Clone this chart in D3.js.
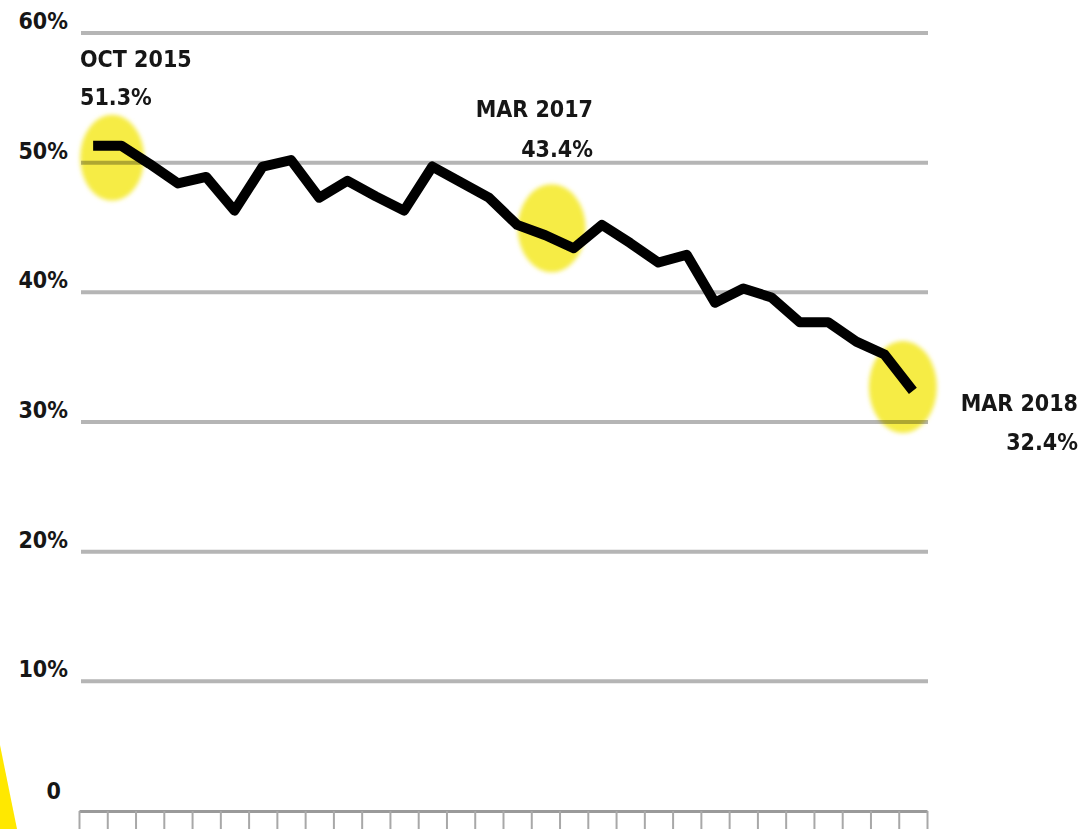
<!DOCTYPE html>
<html>
<head>
<meta charset="utf-8">
<script src="https://cdn.jsdelivr.net/npm/d3@7"></script>
<style>
    body { margin: 0; background: #fff; }
    svg { display: block; }
    text { font-family: "DejaVu Sans Condensed", "DejaVu Sans", sans-serif; font-weight: bold; fill: #161616; }
</style>
</head>
<body>
<svg width="1082" height="829"></svg>
<script>
const months = [
    "OCT 2015", "NOV 2015", "DEC 2015",
    "JAN 2016", "FEB 2016", "MAR 2016", "APR 2016", "MAY 2016", "JUN 2016",
    "JUL 2016", "AUG 2016", "SEP 2016", "OCT 2016", "NOV 2016", "DEC 2016",
    "JAN 2017", "FEB 2017", "MAR 2017", "APR 2017", "MAY 2017", "JUN 2017",
    "JUL 2017", "AUG 2017", "SEP 2017", "OCT 2017", "NOV 2017", "DEC 2017",
    "JAN 2018", "FEB 2018", "MAR 2018"
];
const values = [
    51.3, 51.3, 49.9, 48.4, 48.9, 46.3, 49.7, 50.2, 47.3, 48.6,
    47.4, 46.3, 49.7, 48.5, 47.3, 45.2, 44.4, 43.4, 45.2, 43.8,
    42.3, 42.9, 39.2, 40.3, 39.6, 37.7, 37.7, 36.2, 35.2, 32.4
];
const yTicks = [0, 10, 20, 30, 40, 50, 60];
const yTickLabels = ["0", "10%", "20%", "30%", "40%", "50%", "60%"];

const svg = d3.select("svg");

const x = d3.scaleBand()
    .domain(months)
    .range([79, 927]);

const xEdge = d3.scaleLinear()
    .domain([0, months.length])
    .range([79, 927]);

const y = d3.scaleLinear()
    .domain([0, 60])
    .range([811, 33]);

const cx = m => x(m) + x.bandwidth() / 2;

// grid
svg.append("g")
    .selectAll("line")
    .data(yTicks.filter(d => d > 0))
    .enter().append("line")
    .attr("x1", 81)
    .attr("x2", 928)
    .attr("y1", d => y(d))
    .attr("y2", d => y(d))
    .attr("stroke", "#b5b5b5")
    .attr("stroke-width", 4);

svg.append("g")
    .selectAll("text")
    .data(yTicks)
    .enter().append("text")
    .attr("x", d => d === 0 ? 61 : 68)
    .attr("y", d => y(d) - (d === 0 ? 12 : 4))
    .attr("text-anchor", "end")
    .attr("font-size", 23)
    .text((d, i) => yTickLabels[i]);

// bottom axis with month boundaries
const xAxis = svg.append("g")
    .attr("transform", "translate(0," + y(0) + ")")
    .call(d3.axisBottom(xEdge)
        .tickValues(d3.range(months.length + 1))
        .tickSize(20)
        .tickSizeOuter(0)
        .tickFormat(""));
xAxis.select(".domain").attr("stroke", "#9a9a9a").attr("stroke-width", 3);
xAxis.selectAll(".tick line").attr("stroke", "#a8a8a8").attr("stroke-width", 2);

// yellow highlight ellipses
const defs = svg.append("defs");
defs.append("filter").attr("id", "soft")
    .append("feGaussianBlur").attr("stdDeviation", 2);

const spots = [
    {m: "OCT 2015", dx: 19, dy: 12, rx: 32, ry: 43},
    {m: "MAR 2017", dx: -22, dy: -20, rx: 34, ry: 44},
    {m: "MAR 2018", dx: -10, dy: -4, rx: 34, ry: 46}
];
svg.append("g")
    .style("mix-blend-mode", "multiply")
    .selectAll("ellipse")
    .data(spots)
    .enter().append("ellipse")
    .attr("cx", d => cx(d.m) + d.dx)
    .attr("cy", d => y(values[months.indexOf(d.m)]) + d.dy)
    .attr("rx", d => d.rx)
    .attr("ry", d => d.ry)
    .attr("fill", "#f6ec45")
    .attr("filter", "url(#soft)");

// line
const line = d3.line()
    .x((d, i) => cx(months[i]))
    .y(d => y(d));

svg.append("path")
    .attr("d", line(values))
    .attr("fill", "none")
    .attr("stroke", "#000")
    .attr("stroke-width", 10)
    .attr("stroke-linejoin", "round")
    .attr("stroke-linecap", "butt");

// annotations
const notes = [
    {m: "OCT 2015", x: 80, y1: 67, y2: 105, anchor: "start"},
    {m: "MAR 2017", x: 593, y1: 117, y2: 157, anchor: "end"},
    {m: "MAR 2018", x: 1078, y1: 411, y2: 450, anchor: "end"}
];
notes.forEach(function (n) {
    const v = values[months.indexOf(n.m)];
    svg.append("text")
        .attr("x", n.x).attr("y", n.y1)
        .attr("text-anchor", n.anchor)
        .attr("font-size", 23)
        .text(n.m);
    svg.append("text")
        .attr("x", n.x).attr("y", n.y2)
        .attr("text-anchor", n.anchor)
        .attr("font-size", 23)
        .text(v.toFixed(1) + "%");
});

// yellow corner wedge
svg.append("path")
    .attr("d", "M0,745 L17,829 L0,829 Z")
    .attr("fill", "#ffe800");
</script>
</body>
</html>
